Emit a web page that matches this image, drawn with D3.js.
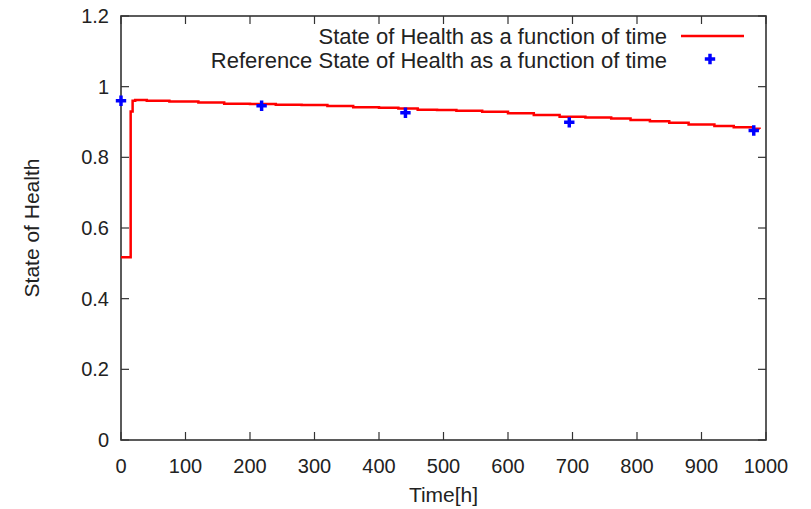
<!DOCTYPE html>
<html>
<head>
<meta charset="utf-8">
<script src="https://cdn.jsdelivr.net/npm/d3@7"></script>
<style>
  body { margin: 0; background: #fff; }
  text { font-family: "Liberation Sans", Arial, sans-serif; fill: #222; }
</style>
</head>
<body>
<svg id="chart" width="811" height="509"></svg>
<script>
// State of Health (stairs): [time h, SoH]
const sohTime = [0, 15, 18, 22, 35, 40, 75, 120, 160, 200, 240, 280, 320, 360, 400, 430, 460, 490, 520, 560, 600, 640, 680, 720, 760, 790, 820, 850, 880, 920, 950, 980, 990];
const sohValue = [0.517, 0.93, 0.96, 0.962, 0.962, 0.96, 0.958, 0.955, 0.952, 0.951, 0.949, 0.948, 0.945, 0.942, 0.94, 0.938, 0.935, 0.934, 0.932, 0.929, 0.925, 0.92, 0.915, 0.913, 0.91, 0.906, 0.902, 0.898, 0.893, 0.889, 0.885, 0.881, 0.88];

// reference points
const refTime = [0, 218, 441, 695, 981];
const refValue = [0.96, 0.946, 0.926, 0.899, 0.876];

const xTicks = [0, 100, 200, 300, 400, 500, 600, 700, 800, 900, 1000];
const yTicks = [0, 0.2, 0.4, 0.6, 0.8, 1, 1.2];

const svg = d3.select("#chart");
const margin = { top: 16, right: 45, bottom: 69, left: 121 },
      width = 811 - margin.left - margin.right,
      height = 509 - margin.top - margin.bottom;

const x = d3.scaleLinear().domain([0, 1000]).range([0, width]);
const y = d3.scaleLinear().domain([0, 1.2]).range([height, 0]);

const g = svg.append("g")
    .attr("transform", `translate(${margin.left},${margin.top})`);

const tickLen = 8;
const axisColor = "#333";
const tickFont = 20;

// ticks, all four sides, pointing in
xTicks.forEach(t => {
    g.append("line").attr("x1", x(t)).attr("x2", x(t)).attr("y1", height).attr("y2", height - tickLen)
        .attr("stroke", axisColor).attr("stroke-width", 1.2);
    g.append("line").attr("x1", x(t)).attr("x2", x(t)).attr("y1", 0).attr("y2", tickLen)
        .attr("stroke", axisColor).attr("stroke-width", 1.2);
    g.append("text").attr("x", x(t)).attr("y", height + 33)
        .attr("text-anchor", "middle").attr("font-size", tickFont).text(t);
});
yTicks.forEach(t => {
    g.append("line").attr("x1", 0).attr("x2", tickLen).attr("y1", y(t)).attr("y2", y(t))
        .attr("stroke", axisColor).attr("stroke-width", 1.2);
    g.append("line").attr("x1", width).attr("x2", width - tickLen).attr("y1", y(t)).attr("y2", y(t))
        .attr("stroke", axisColor).attr("stroke-width", 1.2);
    g.append("text").attr("x", -12).attr("y", y(t)).attr("dy", "0.35em")
        .attr("text-anchor", "end").attr("font-size", tickFont).text(t);
});

// border
g.append("rect").attr("x", 0).attr("y", 0).attr("width", width).attr("height", height)
    .attr("fill", "none").attr("stroke", axisColor).attr("stroke-width", 1.6);

// SoH line
const sohData = sohTime.map((t, i) => ({ t: t, v: sohValue[i] }));
const line = d3.line()
    .x(d => x(d.t))
    .y(d => y(d.v))
    .curve(d3.curveStepAfter);

g.append("path")
    .datum(sohData)
    .attr("fill", "none")
    .attr("stroke", "#ff0000")
    .attr("stroke-width", 2.5)
    .attr("d", line);

// reference points
const plus = d3.symbol().type(d3.symbolCross).size(60);
refTime.forEach((t, i) => {
    g.append("path")
        .attr("d", plus)
        .attr("transform", `translate(${x(t)},${y(refValue[i])})`)
        .attr("fill", "#0000ff");
});

// legend
const legendX = 667;
const legendFont = 22;
svg.append("text").attr("x", legendX).attr("y", 36).attr("dy", "0.35em")
    .attr("text-anchor", "end").attr("font-size", legendFont).text("State of Health as a function of time");
svg.append("line").attr("x1", 681).attr("x2", 744).attr("y1", 36).attr("y2", 36)
    .attr("stroke", "#ff0000").attr("stroke-width", 2.5);
svg.append("text").attr("x", legendX).attr("y", 60).attr("dy", "0.35em")
    .attr("text-anchor", "end").attr("font-size", legendFont).text("Reference State of Health as a function of time");
svg.append("path").attr("d", plus)
    .attr("transform", "translate(710,59)").attr("fill", "#0000ff");

// axis titles
svg.append("text").attr("x", margin.left + x(500)).attr("y", 502)
    .attr("text-anchor", "middle").attr("font-size", 21).text("Time[h]");
svg.append("text")
    .attr("transform", `translate(39,${margin.top + height / 2}) rotate(-90)`)
    .attr("text-anchor", "middle").attr("font-size", 21).text("State of Health");
</script>
</body>
</html>
